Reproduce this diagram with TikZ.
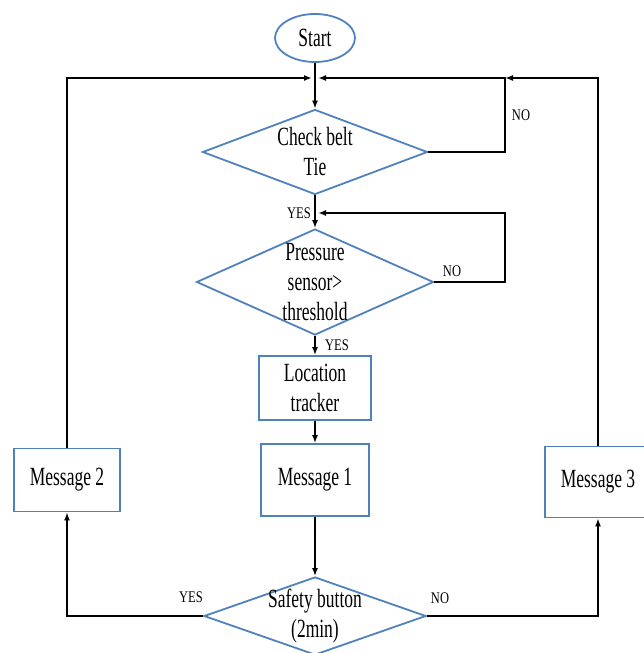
\documentclass[tikz,border=0pt]{standalone}
\usepackage{fontspec}
\setmainfont{Liberation Serif}
\newfontfamily\tnr{Liberation Serif}
\usepackage{xcolor}
\usepackage{tikz}
\usetikzlibrary{arrows.meta,positioning,shapes.geometric}
\definecolor{shapeblue}{RGB}{79,129,189}

\begin{document}
\begin{tikzpicture}[
  x=1pt,y=-1pt,
  txt/.style={font=\tnr\fontsize{17.5}{20}\selectfont,align=center,yscale=1.5,transform shape,inner sep=0pt},
  base/.style={draw=shapeblue,line width=1.8pt,inner sep=0pt},
  term/.style={base,ellipse,minimum width=80pt,minimum height=48pt},
  box/.style={base,rectangle},
  decision/.style={base,diamond},
  tag/.style={font=\tnr\fontsize{12.5}{14}\selectfont,yscale=1.3,transform shape},
  arrow/.style={-{Latex[length=8pt,width=6pt]},line width=2pt},
]
\useasboundingbox (0,0) rectangle (644,653);
\node[term,label={[txt]center:Start}] (start) at (315,38) {};
\node[decision,minimum width=225pt,minimum height=85pt,label={[txt]center:Check belt\\Tie}] (belt) at (315,152) {};
\node[decision,minimum width=237pt,minimum height=106pt,label={[txt]center:Pressure\\sensor>\\threshold}] (press) at (315,282) {};
\node[box,minimum width=112pt,minimum height=64pt,label={[txt]center:Location\\tracker}] (track) at (315,388) {};
\node[box,minimum width=108pt,minimum height=72pt,label={[txt]center:Message 1}] (msg1) at (315,480) {};
\node[decision,minimum width=222pt,minimum height=78pt,label={[txt]center:Safety button\\(2min)}] (safe) at (315,616) {};
\node[box,minimum width=106pt,minimum height=63pt,label={[txt]center:Message 2}] (msg2) at (67,480) {};
\node[box,minimum width=106pt,minimum height=71pt,label={[txt]center:Message 3}] (msg3) at (598,482) {};
% loop joints
\coordinate (jn) at (315,78);
\coordinate (nojoin) at (505,78);
\coordinate (yjoin) at (315,213);
\coordinate (ploop) at (505,213);
\draw[arrow] (start) -- (belt.north);
\draw[arrow] (msg2.north) |- ([xshift=-3pt]jn);
\draw[arrow] (msg3.north) |- (nojoin);
\draw[arrow] (belt.east) -| (nojoin) -- ([xshift=3pt]jn);
\draw[arrow] (belt.south) -- (press.north);
\draw[arrow] (press.east) -| (ploop) -- ([xshift=3pt]yjoin);
\draw[arrow] (press.south) -- (track.north);
\draw[arrow] (track) -- (msg1);
\draw[arrow] (msg1) -- (safe.north);
\draw[arrow] (safe.west) -| (msg2.south);
\draw[arrow] (safe.east) -| (msg3.south);
\node[tag] (noA) at (521,115) {NO};
\node[tag] (yesA) at (299,213) {YES};
\node[tag] (noB) at (452,271) {NO};
\node[tag] (yesB) at (337,345) {YES};
\node[tag] (yesC) at (191,597) {YES};
\node[tag] (noC) at (440,598) {NO};
\end{tikzpicture}
\end{document}
